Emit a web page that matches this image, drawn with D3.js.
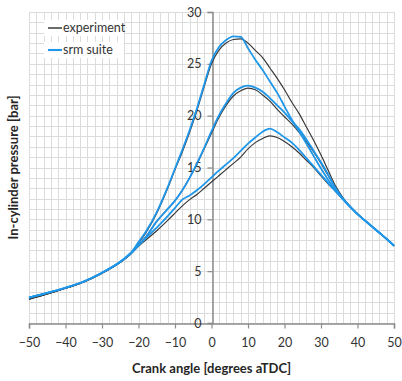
<!DOCTYPE html>
<html>
<head>
<meta charset="utf-8">
<script src="https://cdn.jsdelivr.net/npm/d3@7"></script>
<style>
  body { margin: 0; background: #fff; }
  svg { display: block; font-family: Lato, "Open Sans", sans-serif; }
</style>
</head>
<body>
<div id="chart"></div>
<script>
// crank angle samples [deg aTDC]
const angles = [-50, -45, -40, -35, -30, -25, -22, -20, -18, -15, -12, -10, -8, -6, -4, -2, 0, 2, 4, 6, 8, 10, 12, 14, 16, 18, 20, 22, 24, 26, 28, 30, 32, 34, 36, 38, 40, 42, 44, 46, 48, 50];

// experiment pressure traces [bar]
const expA = [2.3, 2.8, 3.35, 3.95, 4.8, 5.85, 6.75, 7.7, 8.7, 10.6, 13.0, 14.8, 16.5, 18.4, 20.5, 22.8, 25.0, 26.3, 27.0, 27.35, 27.4, 27.0, 26.3, 25.6, 24.6, 23.6, 22.5, 21.3, 20.2, 18.9, 17.6, 16.2, 14.7, 13.2, 12.1, 11.25, 10.55, 9.9, 9.3, 8.7, 8.1, 7.45];
const expB = [2.3, 2.8, 3.35, 3.95, 4.8, 5.85, 6.7, 7.5, 8.3, 9.8, 11.0, 11.8, 12.8, 14.0, 15.3, 16.8, 18.3, 19.8, 21.0, 21.9, 22.4, 22.65, 22.5, 22.0, 21.4, 20.6, 19.9, 19.2, 18.4, 17.5, 16.5, 15.4, 14.2, 13.0, 12.0, 11.2, 10.5, 9.9, 9.3, 8.7, 8.1, 7.45];
const expC = [2.3, 2.8, 3.35, 3.95, 4.8, 5.85, 6.7, 7.4, 8.0, 8.9, 9.9, 10.6, 11.3, 11.9, 12.4, 13.0, 13.6, 14.2, 14.8, 15.4, 16.0, 16.8, 17.4, 17.8, 18.05, 17.9, 17.5, 17.0, 16.4, 15.7, 15.0, 14.2, 13.4, 12.7, 11.95, 11.2, 10.5, 9.9, 9.3, 8.7, 8.1, 7.45];

// srm suite simulated traces [bar]
const simA = [2.45, 2.9, 3.4, 4.0, 4.85, 5.9, 6.8, 7.8, 8.8, 10.7, 13.1, 14.9, 16.7, 18.6, 20.7, 23.0, 25.3, 26.6, 27.3, 27.65, 27.6, 26.5, 25.4, 24.4, 23.3, 22.2, 20.9, 19.6, 18.5, 17.3, 16.1, 14.9, 13.8, 12.8, 11.95, 11.2, 10.5, 9.9, 9.3, 8.7, 8.1, 7.45];
const simB = [2.45, 2.9, 3.4, 4.0, 4.85, 5.9, 6.75, 7.5, 8.3, 9.8, 11.0, 11.8, 12.8, 14.0, 15.4, 16.9, 18.5, 20.0, 21.2, 22.2, 22.7, 22.9, 22.7, 22.3, 21.7, 21.0, 20.3, 19.5, 18.7, 17.7, 16.6, 15.5, 14.3, 13.0, 12.0, 11.2, 10.5, 9.9, 9.3, 8.7, 8.1, 7.45];
const simC = [2.45, 2.9, 3.4, 4.0, 4.85, 5.9, 6.8, 7.5, 8.2, 9.2, 10.3, 11.1, 11.9, 12.3, 12.8, 13.4, 14.05, 14.7, 15.3, 15.9, 16.6, 17.3, 17.9, 18.45, 18.75, 18.4, 17.9, 17.4, 16.7, 15.9, 15.1, 14.3, 13.5, 12.7, 11.95, 11.2, 10.5, 9.9, 9.3, 8.7, 8.1, 7.45];

const xTicks = [-50, -40, -30, -20, -10, 0, 10, 20, 30, 40, 50];
const yTicks = [0, 5, 10, 15, 20, 25, 30];

const legendItems = [
  { label: 'experiment', color: '#3a3a3a', width: 1.2 },
  { label: 'srm suite', color: '#1e96ea', width: 1.8 },
];

const W = 402;
const H = 381;
const margins = { left: 29, right: 8, top: 12, bottom: 58 };
const FONT = 'Lato, "Open Sans", sans-serif';

const svg = d3.select('#chart').append('svg').attr('width', W).attr('height', H);

const x = d3.scaleLinear().domain([-50, 50]).range([margins.left, W - margins.right]);
const y = d3.scaleLinear().domain([0, 30]).range([H - margins.bottom, margins.top]);

// grid: every 2 degrees and every 1 bar
const grid = svg.append('g').attr('stroke', '#dcdcdc').attr('stroke-width', 1);
grid.selectAll('line.gx').data(d3.range(-50, 51, 2)).join('line')
  .attr('x1', (d) => Math.round(x(d)) + 0.5).attr('x2', (d) => Math.round(x(d)) + 0.5)
  .attr('y1', y(30)).attr('y2', y(0));
grid.selectAll('line.gy').data(d3.range(0, 31, 1)).join('line')
  .attr('y1', (d) => Math.round(y(d)) + 0.5).attr('y2', (d) => Math.round(y(d)) + 0.5)
  .attr('x1', x(-50)).attr('x2', x(50));

// x axis at bottom
const xAxis = svg.append('g')
  .attr('transform', `translate(0, ${Math.round(y(0)) + 0.5})`)
  .call(d3.axisBottom(x).tickValues(xTicks).tickSize(5).tickPadding(10).tickFormat(d3.format('d')));
xAxis.select('.domain').attr('stroke', '#8c8c8c').attr('stroke-width', 1.5);
xAxis.selectAll('.tick line').attr('stroke', '#8c8c8c').attr('stroke-width', 1.2);
xAxis.selectAll('.tick text').attr('fill', '#333').style('font-size', '12.5px').style('font-family', FONT);

// y axis crossing at 0 degrees
const yAxis = svg.append('g')
  .attr('transform', `translate(${Math.round(x(0)) + 0.5}, 0)`)
  .call(d3.axisLeft(y).tickValues(yTicks).tickSize(5).tickPadding(6));
yAxis.select('.domain').attr('stroke', '#8c8c8c').attr('stroke-width', 1.5);
yAxis.selectAll('.tick line').attr('stroke', '#8c8c8c').attr('stroke-width', 1.2);
yAxis.selectAll('.tick text').attr('fill', '#333').style('font-size', '12.5px').style('font-family', FONT);

const line = d3.line().x((d, i) => x(angles[i])).y((d) => y(d)).curve(d3.curveMonotoneX);

const traces = svg.append('g').attr('fill', 'none').attr('stroke-linejoin', 'round');
[expA, expB, expC].forEach((s) => {
  traces.append('path').attr('d', line(s))
    .attr('stroke', legendItems[0].color).attr('stroke-width', legendItems[0].width);
});
[simA, simB, simC].forEach((s) => {
  traces.append('path').attr('d', line(s))
    .attr('stroke', legendItems[1].color).attr('stroke-width', legendItems[1].width);
});

// legend
const legend = svg.append('g').attr('transform', 'translate(48, 28)');
legendItems.forEach((item, i) => {
  const g = legend.append('g').attr('transform', `translate(0, ${i * 22})`);
  g.append('rect').attr('x', -4).attr('y', -8).attr('width', 80).attr('height', 16).attr('fill', '#fff');
  g.append('line').attr('x1', 0).attr('x2', 14).attr('y1', 0).attr('y2', 0)
    .attr('stroke', item.color).attr('stroke-width', item.width + 0.3);
  g.append('text').attr('x', 15).attr('y', 0).attr('dy', '0.35em')
    .attr('fill', '#333').style('font-size', '12.5px').text(item.label);
});

// axis titles
svg.append('text')
  .attr('x', x(0)).attr('y', 373)
  .attr('text-anchor', 'middle').attr('font-weight', 'bold').attr('fill', '#262626')
  .style('font-size', '13px')
  .text('Crank angle [degrees aTDC]');

svg.append('text')
  .attr('transform', `translate(18, ${(y(0) + y(30)) / 2}) rotate(-90)`)
  .attr('text-anchor', 'middle').attr('font-weight', 'bold').attr('fill', '#262626')
  .style('font-size', '13px')
  .text('In-cylinder pressure [bar]');
</script>
</body>
</html>
